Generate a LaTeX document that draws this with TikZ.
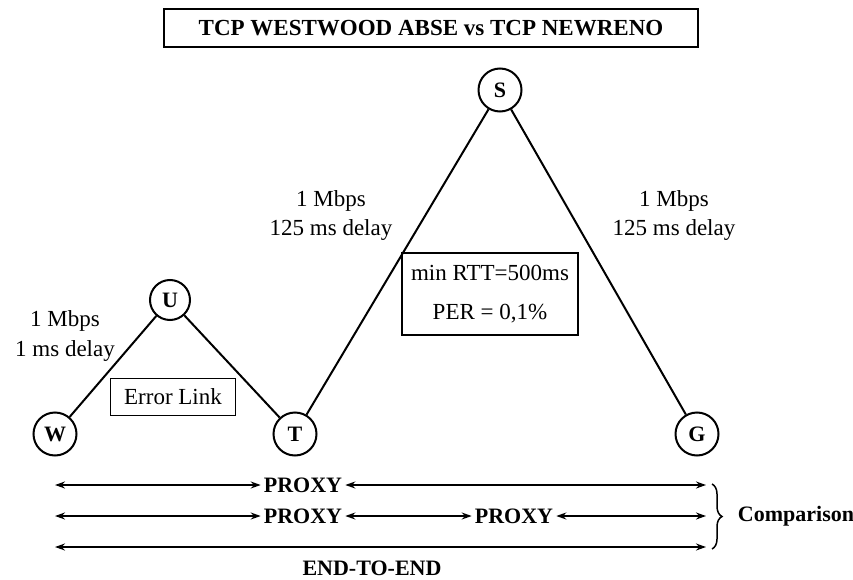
\documentclass[tikz,border=0pt]{standalone}
\usepackage{fontspec}
\setmainfont{Liberation Serif}
\usetikzlibrary{arrows.meta,decorations.pathreplacing}

\tikzset{
  host/.style={draw, circle, line width=2pt, minimum size=43pt, inner sep=0pt, font=\fontsize{22}{26}\selectfont\bfseries},
  link/.style={line width=2pt},
  infobox/.style={draw, line width=1.5pt, inner sep=4pt},
  tag/.style={font=\fontsize{22}{26}\selectfont\bfseries, inner sep=3pt},
  span/.style={line width=2pt, {Stealth[length=10pt,width=7pt]}-{Stealth[length=10pt,width=7pt]}},
}

\begin{document}
\begin{tikzpicture}[x=1pt, y=-1pt, font=\fontsize{23}{29}\selectfont]
    \useasboundingbox (0,0) rectangle (853,580);
    % title
    \node[infobox, minimum width=534pt, minimum height=38pt, font=\fontsize{23}{27}\selectfont\bfseries] (title) at (431,28) {TCP WESTWOOD ABSE vs TCP NEWRENO};
    % hosts
    \node[host] (S) at (500,90) {S};
    \node[host, minimum size=40pt] (U) at (170,300) {U};
    \node[host] (W) at (55,434) {W};
    \node[host] (T) at (295,434) {T};
    \node[host] (G) at (697,434) {G};
    \draw[link] (W) -- (U) -- (T) -- (S) -- (G);
    % link labels
    \node[align=center] (lwu) at (65,336) {1 Mbps\\1 ms delay};
    \node[align=center] (lts) at (331,216) {1 Mbps\\125 ms delay};
    \node[align=center] (lsg) at (674,216) {1 Mbps\\125 ms delay};
    \node[infobox, align=center, minimum width=176pt, minimum height=82pt] (rtt) at (490,294) {min RTT=500ms\\[10pt]PER = 0,1\%};
    \node[infobox, minimum width=125pt, minimum height=37pt, inner sep=2pt] (err) at (173,397) {Error Link};
    % spans
    \coordinate (a1) at (55,485); \coordinate (b1) at (706,485);
    \coordinate (a2) at (55,516); \coordinate (b2) at (706,516);
    \coordinate (a3) at (55,547); \coordinate (b3) at (706,547);
    \node[tag] (p1) at (303,485) {PROXY};
    \node[tag] (p2) at (303,516) {PROXY};
    \node[tag] (p3) at (514,516) {PROXY};
    \draw[span] (a1) -- (p1);
    \draw[span] (p1) -- (b1);
    \draw[span] (a2) -- (p2);
    \draw[span] (p2) -- (p3);
    \draw[span] (p3) -- (b2);
    \draw[span] (a3) -- (b3);
    \node[tag] (e2e) at (372,568) {END-TO-END};
    \draw[line width=1.5pt, decorate, decoration={brace, amplitude=10pt}] (712,484) -- (712,549);
    \node[tag] (cmp) at (796,516) {Comparison};
\end{tikzpicture}
\end{document}
